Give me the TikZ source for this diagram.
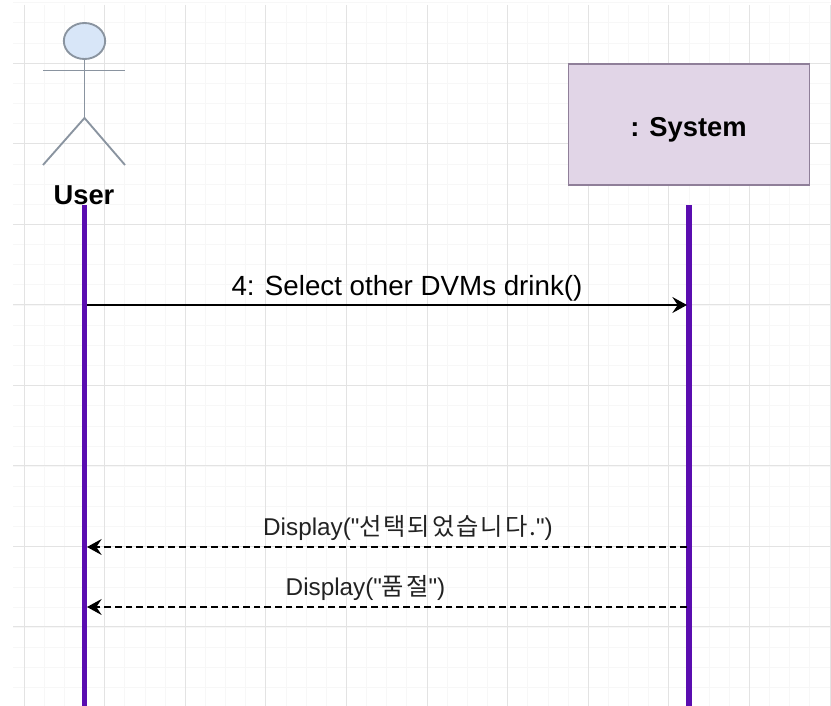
\documentclass[tikz,border=0pt]{standalone}
\usepackage{fontspec}
\newfontfamily\labelfont{Liberation Sans}
\newfontfamily\krfont[LetterSpace=8]{Noto Sans CJK KR}
\usetikzlibrary{arrows.meta,shapes.geometric}
\definecolor{lifecol}{HTML}{5A0DB0}
\definecolor{actorcol}{HTML}{8A94A0}
\definecolor{headfill}{HTML}{D8E6F8}
\definecolor{boxfill}{HTML}{E1D5E7}
\definecolor{boxline}{HTML}{8F7F99}
\definecolor{labelcol}{HTML}{222222}
\tikzset{
  minorgrid/.style={draw=black!3,line width=.6pt},
  majorgrid/.style={draw=black!11,line width=.7pt},
  lifeline/.style={draw=lifecol,line width=4.2pt},
  actorline/.style={draw=actorcol,line width=1.4pt},
  callmsg/.style={draw=black,line width=1pt,-{Stealth[length=11pt,width=12pt,inset=4pt]}},
  replymsg/.style={callmsg,dash pattern=on 5pt off 3pt},
  namelabel/.style={font=\labelfont\bfseries\fontsize{20.5}{24}\selectfont,text=black},
  msglabel/.style={font=\labelfont\fontsize{18.2}{21}\selectfont,text=labelcol}
}
\begin{document}
\begin{tikzpicture}[x=.75pt,y=-.75pt]
  \useasboundingbox (0,0) rectangle (831,706);
  % grid
  \foreach \i in {0,...,40} \draw[minorgrid] ({24+20.15*\i},5) -- ({24+20.15*\i},706);
  \foreach \i in {0,...,34} \draw[minorgrid] (13,{2.75+20.15*\i}) -- (831,{2.75+20.15*\i});
  \foreach \i in {0,...,10} \draw[majorgrid] ({24+80.6*\i},5) -- ({24+80.6*\i},706);
  \foreach \i in {0,...,7} \draw[majorgrid] (13,{63+80.5*\i}) -- (831,{63+80.5*\i});
  % actor
  \node[draw=actorcol,fill=headfill,line width=1.4pt,ellipse,minimum width=31pt,minimum height=27pt,inner sep=0pt] (head) at (84.5,41) {};
  \coordinate (hip) at (84.5,118);
  \coordinate (armL) at (43,70.5);
  \coordinate (armR) at (125,70.5);
  \coordinate (footL) at (43,165);
  \coordinate (footR) at (125,165);
  \draw[actorline] (head) -- (hip);
  \draw[actorline] (armL) -- (armR);
  \draw[actorline] (footL) -- (hip) -- (footR);
  \node[namelabel] (user) at (84,195) {User};
  % system box
  \node[draw=boxline,fill=boxfill,line width=1pt,minimum width=181pt,minimum height=90.5pt,inner sep=0pt] (system) at (689,124.5) {};
  \node[namelabel] (sysname) at (688.5,130) {: System};
  % lifelines
  \coordinate (userT) at (84.5,205);
  \coordinate (userB) at (84.5,706);
  \coordinate (sysT) at (689,205);
  \coordinate (sysB) at (689,706);
  \draw[lifeline] (userT) -- (userB);
  \draw[lifeline] (sysT) -- (sysB);
  % messages
  \coordinate (selA) at (87,305);
  \coordinate (selB) at (687,305);
  \coordinate (dispA) at (687,547);
  \coordinate (dispB) at (87,547);
  \coordinate (soldA) at (687,607);
  \coordinate (soldB) at (87,607);
  \draw[callmsg] (selA) -- (selB);
  \draw[replymsg] (dispA) -- (dispB);
  \draw[replymsg] (soldA) -- (soldB);
  \node[namelabel,font=\labelfont\fontsize{20.8}{24}\selectfont] (sel) at (407,288) {4: Select other DVMs drink()};
  \node[msglabel] (disp) at (408,528) {Display("{\krfont 선택되었습니다.}")};
  \node[msglabel] (sold) at (365.5,587.5) {Display("{\krfont 품절}")};
\end{tikzpicture}
\end{document}
